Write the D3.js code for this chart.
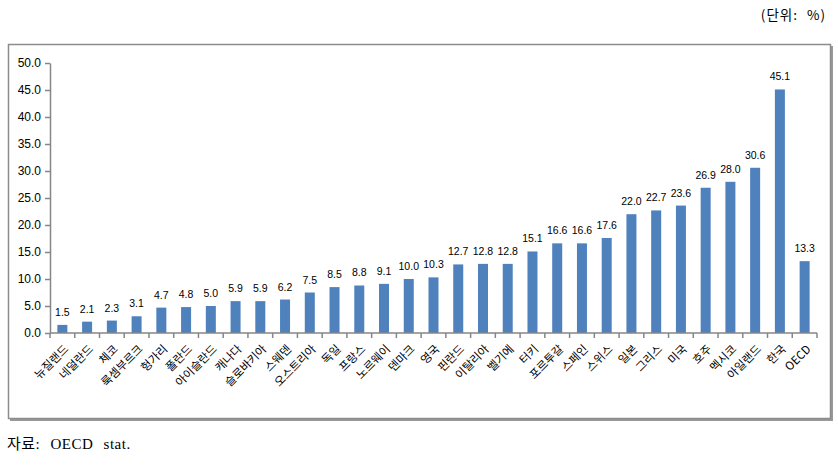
<!DOCTYPE html>
<html><head><meta charset="utf-8">
<script src="https://cdn.jsdelivr.net/npm/d3@7"></script>
<style>
body{margin:0;background:#fff;}
svg{display:block;}
</style></head>
<body>
<svg id="c" width="838" height="475"></svg>
<script>
const categories = ["뉴질랜드","네덜란드","체코","룩셈부르크","헝가리","폴란드","아이슬란드","캐나다","슬로바키아","스웨덴","오스트리아","독일","프랑스","노르웨이","덴마크","영국","핀란드","이탈리아","벨기에","터키","포르투갈","스페인","스위스","일본","그리스","미국","호주","멕시코","아일랜드","한국","OECD"];
const values = [1.5,2.1,2.3,3.1,4.7,4.8,5.0,5.9,5.9,6.2,7.5,8.5,8.8,9.1,10.0,10.3,12.7,12.8,12.8,15.1,16.6,16.6,17.6,22.0,22.7,23.6,26.9,28.0,30.6,45.1,13.3];
const yTicks = [0,5,10,15,20,25,30,35,40,45,50];
const unitText = "(단위: %)";
const sourceText = "자료: OECD stat.";

const svg = d3.select("#c");
const pLeft = 50, pRight = 817, pTop = 63, pBottom = 333;

// frame with shadow
svg.append("rect").attr("x",10).attr("y",46).attr("width",823).attr("height",375).attr("fill","#999");
svg.append("rect").attr("x",8.5).attr("y",44.5).attr("width",822).attr("height",374)
  .attr("fill","#fff").attr("stroke","#8c8c8c").attr("stroke-width",1.5);

const xb = d3.scaleBand().domain(categories).range([pLeft,pRight]);
const y = d3.scaleLinear().domain([0,50]).range([pBottom,pTop]);

// bars
svg.append("g").selectAll("rect").data(values).join("rect")
  .attr("x",(d,i)=>xb(categories[i]) + xb.bandwidth()/2 - 5)
  .attr("width",10)
  .attr("y",d=>y(d))
  .attr("height",d=>y(0)-y(d))
  .attr("fill","#4f81bd");

// data labels
svg.append("g").selectAll("text").data(values).join("text")
  .attr("x",(d,i)=>xb(categories[i]) + xb.bandwidth()/2)
  .attr("y",d=>y(d)-9)
  .attr("text-anchor","middle")
  .attr("font-family","'Liberation Sans',Arial,sans-serif")
  .attr("font-size",10.5)
  .attr("fill","#000")
  .text(d=>d.toFixed(1));

// y axis
const yAxis = d3.axisLeft(y).tickValues(yTicks).tickFormat(d=>d.toFixed(1)).tickSize(5).tickSizeOuter(0);
const gy = svg.append("g").attr("transform",`translate(${pLeft},0)`).call(yAxis);
gy.selectAll("path,line").attr("stroke","#868686").attr("stroke-width",1.5);
gy.selectAll("text").attr("font-family","'Liberation Sans',Arial,sans-serif")
  .attr("font-size",12).attr("fill","#000").attr("x",-9);

// x axis
const gx = svg.append("g").attr("transform",`translate(0,${pBottom})`);
gx.append("line").attr("x1",pLeft).attr("x2",pRight).attr("y1",0).attr("y2",0)
  .attr("stroke","#868686").attr("stroke-width",1.5);
const edges = categories.map(c=>xb(c)).concat([pRight]);
gx.selectAll("line.t").data(edges).join("line").attr("class","t")
  .attr("x1",d=>d).attr("x2",d=>d).attr("y1",0).attr("y2",5)
  .attr("stroke","#868686").attr("stroke-width",1.5);

// category labels
svg.append("g").selectAll("text").data(categories).join("text")
  .attr("transform",c=>`translate(${xb(c)+xb.bandwidth()/2+4},${pBottom+14}) rotate(-45)`)
  .attr("text-anchor","end")
  .attr("dy","0.35em")
  .attr("font-family","'Noto Sans CJK KR',sans-serif")
  .attr("font-size",11.5)
  .attr("fill","#000")
  .text(c=>c);

svg.append("text").attr("x",826).attr("y",20).attr("text-anchor","end")
  .attr("font-family","'Noto Sans CJK KR',sans-serif").attr("font-size",13.5)
  .attr("word-spacing",5).attr("letter-spacing",1).text(unitText);
svg.append("text").attr("x",7).attr("y",449)
  .attr("font-family","'Liberation Serif','Noto Sans CJK KR',serif").attr("font-size",15)
  .attr("word-spacing",6).attr("letter-spacing",0.5).text(sourceText);
</script>
</body></html>
